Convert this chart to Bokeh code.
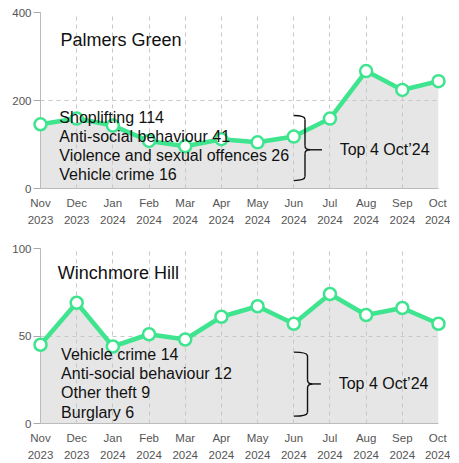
from bokeh.plotting import figure
from bokeh.layouts import column
from bokeh.models import Range1d, FixedTicker, ColumnDataSource
from bokeh.core.properties import value
from bokeh.embed import file_html
from bokeh.resources import INLINE

months = ["Nov\n2023", "Dec\n2023", "Jan\n2024", "Feb\n2024", "Mar\n2024", "Apr\n2024",
          "May\n2024", "Jun\n2024", "Jul\n2024", "Aug\n2024", "Sep\n2024", "Oct\n2024"]

pg_title = "Palmers Green"
pg_values = [146, 159, 143, 108, 96, 112, 105, 118, 159, 267, 224, 244]
pg_top4 = ["Shoplifting 114", "Anti-social behaviour 41",
           "Violence and sexual offences 26", "Vehicle crime 16"]
pg_yticks = [0, 200, 400]

wh_title = "Winchmore Hill"
wh_values = [45, 69, 44, 51, 48, 61, 67, 57, 74, 62, 66, 57]
wh_top4 = ["Vehicle crime 14", "Anti-social behaviour 12", "Other theft 9", "Burglary 6"]
wh_yticks = [0, 50, 100]

brace_label = "Top 4 Oct\u201924"

FONT = value("Liberation Sans")
GREEN = "#3fe48e"


def make_chart(title, vals, items, yticks, border_left, border_top, border_bottom, height):
    ymax = yticks[-1]
    n = len(vals)
    p = figure(width=450, height=height, output_backend="svg", toolbar_location=None,
               x_range=Range1d(0, n - 1), y_range=Range1d(0, ymax),
               min_border_left=border_left, min_border_right=12,
               min_border_top=border_top, min_border_bottom=border_bottom)
    p.outline_line_color = None
    p.background_fill_color = "white"

    idx = list(range(n))
    src = ColumnDataSource(dict(x=idx, y=vals, y0=[0] * n))

    p.varea(x="x", y1="y0", y2="y", source=src, fill_color="#e6e6e6", level="image")
    p.line(x="x", y="y", source=src, line_color=GREEN, line_width=4.5, level="overlay")
    p.scatter(x="x", y="y", source=src, size=12, fill_color="white",
              line_color=GREEN, line_width=2.5, level="overlay")

    p.xaxis.ticker = FixedTicker(ticks=idx)
    p.xaxis.major_label_overrides = {i: m for i, m in enumerate(months)}
    p.xaxis.major_label_text_font = "Liberation Sans"
    p.xaxis.major_label_text_font_size = "11.5px"
    p.xaxis.major_label_text_color = "#555555"
    p.xaxis.major_label_text_line_height = 1.45
    p.xaxis.major_tick_line_color = None
    p.xaxis.minor_tick_line_color = None
    p.xaxis.axis_line_color = "#bbbbbb"
    p.xaxis.major_label_standoff = 2

    p.yaxis.ticker = FixedTicker(ticks=yticks)
    p.yaxis.major_label_text_font = "Liberation Sans"
    p.yaxis.major_label_text_font_size = "11.5px"
    p.yaxis.major_label_text_color = "#555555"
    p.yaxis.major_tick_line_color = "#aaaaaa"
    p.yaxis.major_tick_out = 7
    p.yaxis.major_tick_in = 0
    p.yaxis.minor_tick_line_color = None
    p.yaxis.axis_line_color = "#bbbbbb"
    p.yaxis.major_label_standoff = 2

    p.xgrid.grid_line_color = "#c8c8c8"
    p.xgrid.grid_line_dash = "4 4"
    p.ygrid.grid_line_color = "#c8c8c8"
    p.ygrid.grid_line_dash = "4 4"

    return p


def add_texts(p, title, items, title_x, title_y, item_x, item_y0, item_dy):
    p.text(x=[title_x], y=[title_y], text=[title], text_font=FONT, text_font_size="18px",
           text_color="#111111", text_baseline="middle", text_align="left", level="overlay")
    ys = [item_y0 - k * item_dy for k in range(len(items))]
    p.text(x=[item_x] * len(items), y=ys, text=items, text_font=FONT, text_font_size="16px",
           text_color="#111111", text_baseline="middle", text_align="left", level="overlay")


def add_brace(p, xs, xv, xm, xt, ytop, ymid, ybot, h, label_x):
    kw = dict(line_color="#111111", line_width=1.4, level="overlay")
    p.quadratic(x0=[xs, xv, xm, xv], y0=[ytop, ymid + h, ymid, ybot + h],
                x1=[xv, xm, xv, xs], y1=[ytop - h, ymid, ymid - h, ybot],
                cx=[xv, xv, xv, xv], cy=[ytop, ymid, ymid, ybot], **kw)
    p.segment(x0=[xv, xv, xm], y0=[ytop - h, ymid - h, ymid],
              x1=[xv, xv, xt], y1=[ymid + h, ybot + h, ymid], **kw)
    p.text(x=[label_x], y=[ymid], text=[brace_label], text_font=FONT, text_font_size="16px",
           text_color="#111111", text_baseline="middle", text_align="left", level="overlay")


p1 = make_chart(pg_title, pg_values, pg_top4, pg_yticks, 37, 12, 44, 232)
add_texts(p1, pg_title, pg_top4, 0.55, 337, 0.52, 162, 43.5)
add_brace(p1, 7.0, 7.31, 7.45, 7.78, 166, 88, 18, 9, 8.27)

p2 = make_chart(wh_title, wh_values, wh_top4, wh_yticks, 40, 16, 45, 236)
add_texts(p2, wh_title, wh_top4, 0.48, 86, 0.57, 39.5, 11)
add_brace(p2, 7.0, 7.38, 7.52, 7.75, 40.8, 22.6, 4.2, 2.3, 8.24)

layout = column(p1, p2, spacing=0)
open("out.html", "w").write(file_html(layout, INLINE))
